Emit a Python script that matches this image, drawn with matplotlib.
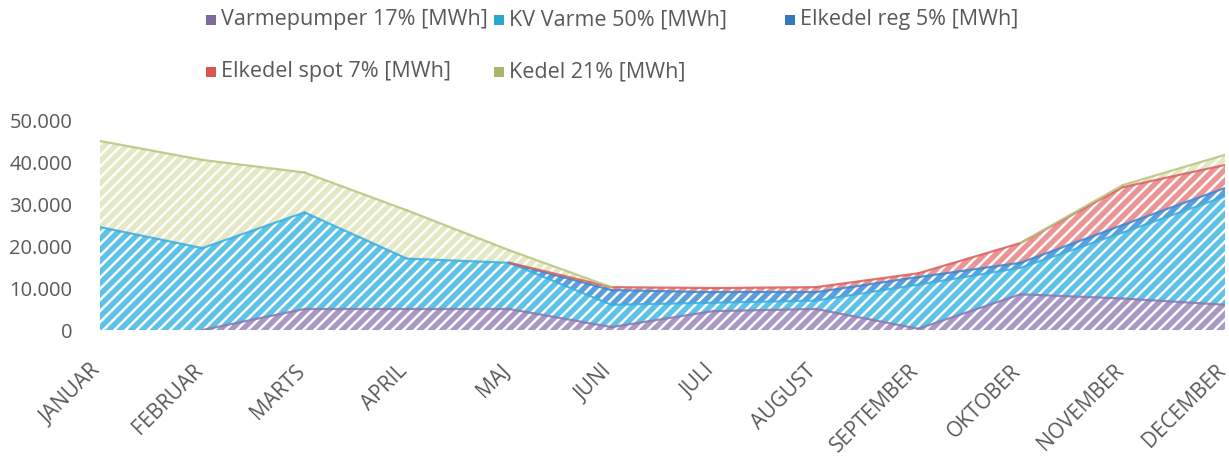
import numpy as np
import matplotlib.pyplot as plt
from matplotlib.patches import Rectangle
from matplotlib.transforms import ScaledTranslation

months = ['JANUAR', 'FEBRUAR', 'MARTS', 'APRIL', 'MAJ', 'JUNI', 'JULI',
          'AUGUST', 'SEPTEMBER', 'OKTOBER', 'NOVEMBER', 'DECEMBER']

varmepumper = [0, 0, 5000, 5000, 5000, 700, 4500, 5000, 300, 8500, 7500, 6000]
kv_varme = [24500, 19500, 23000, 12000, 11000, 5300, 2000, 2000, 10500, 6300, 15700, 25800]
elkedel_reg = [0, 0, 0, 0, 0, 3500, 2500, 2000, 1800, 1200, 1800, 2000]
elkedel_spot = [0, 0, 0, 0, 0, 700, 1000, 1200, 900, 4700, 9000, 5500]
kedel = [20500, 21000, 9500, 11500, 3000, 0, 0, 0, 0, 0, 500, 2400]

labels = ['Varmepumper 17% [MWh]', 'KV Varme 50% [MWh]', 'Elkedel reg 5% [MWh]',
          'Elkedel spot 7% [MWh]', 'Kedel 21% [MWh]']
fills = ['#a898c4', '#5cc2e8', '#5a9fdb', '#ec9494', '#e5e8c4']
lines = ['#8a77ad', '#39aee0', '#3c86cf', '#d9605c', '#b9c47c']
swatch = ['#7b6aa0', '#2aa7cf', '#3578c0', '#d9534f', '#a8b86a']

plt.rcParams['font.family'] = ['Open Sans', 'DejaVu Sans']
plt.rcParams['hatch.linewidth'] = 1.8
text_col = '#595959'

W, H = 1229, 466
fig = plt.figure(figsize=(W / 100, H / 100), dpi=100)
ax = fig.add_axes([100 / W, 1 - 330 / H, 1125 / W, 210 / H])

x = np.arange(len(months))
series = [varmepumper, kv_varme, elkedel_reg, elkedel_spot, kedel]
bottom = np.zeros(len(months))
for vals, fc, lc in zip(series, fills, lines):
    vals = np.array(vals)
    top = bottom + vals
    ax.fill_between(x, bottom, top, facecolor=fc, edgecolor='white',
                    hatch='///', linewidth=0)
    # outline only where the series has some height
    for i in range(len(x) - 1):
        if vals[i] > 0 or vals[i + 1] > 0:
            ax.plot(x[i:i + 2], top[i:i + 2], color=lc, lw=1.6, alpha=0.85,
                    solid_capstyle='round')
    bottom = top

ax.set_xlim(0, 11)
ax.set_ylim(0, 50000)
ax.set_yticks(range(0, 50001, 10000))
ax.set_yticklabels([f'{v:,}'.replace(',', '.') for v in range(0, 50001, 10000)])
ax.set_xticks(x)
ax.set_xticklabels(months, rotation=45, ha='right', va='top',
                   rotation_mode='anchor')
ax.tick_params(length=0, colors=text_col)
ax.tick_params(axis='y', pad=20, labelsize=14.5)
ax.tick_params(axis='x', pad=22, labelsize=15)
shift = ScaledTranslation(-10 / 100, 0, fig.dpi_scale_trans)
for lab in ax.get_xticklabels():
    lab.set_transform(lab.get_transform() + shift)
for s in ax.spines.values():
    s.set_visible(False)

# legend laid out like the original: three columns, two rows
leg_pos = [(206, 20), (494, 20), (785, 20), (206, 72), (494, 72)]
for (px, py), lab, c in zip(leg_pos, labels, swatch):
    fig.add_artist(Rectangle((px / W, 1 - (py + 5) / H), 10 / W, 10 / H,
                             transform=fig.transFigure, facecolor=c,
                             edgecolor='none'))
    fig.text((px + 15) / W, 1 - py / H, lab, fontsize=15.5, color=text_col,
             va='center', ha='left')

fig.savefig('out.png', dpi=100)
